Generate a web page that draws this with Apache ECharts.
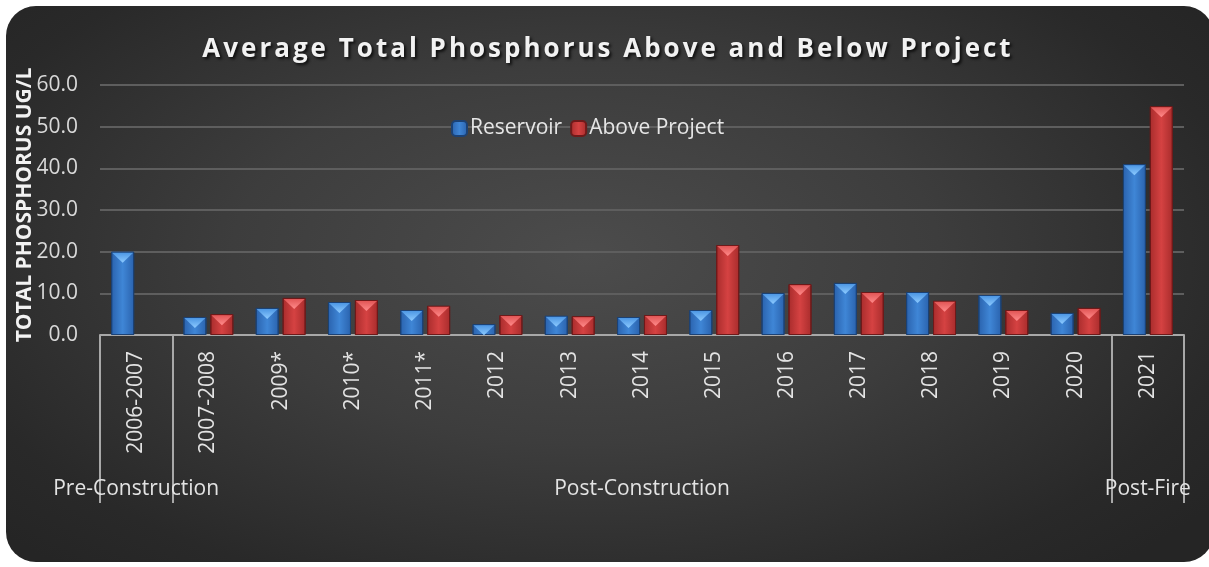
<!DOCTYPE html>
<html>
<head>
<meta charset="utf-8">
<script src="https://cdn.jsdelivr.net/npm/echarts@6/dist/echarts.min.js"></script>
<style>
  html, body { margin: 0; padding: 0; background: #fff; }
  #card {
    position: absolute; left: 6px; top: 6px; width: 1208px; height: 556px;
    border-radius: 30px;
    background: radial-gradient(ellipse 65% 75% at 48% 45%, #4c4c4c 0%, #3d3d3d 45%, #292929 85%, #252525 100%);
  }
  #chart { position: absolute; left: 0; top: 0; width: 1209px; height: 567px; }
  #title {
    position: absolute; left: 0; width: 1216px; top: 29px; text-align: center;
    font-family: 'Open Sans', sans-serif; font-weight: bold; font-size: 26px;
    letter-spacing: 3px; color: #f2f2f2; line-height: 36px;
    text-shadow: 2px 2px 3px rgba(0, 0, 0, 0.75);
  }
</style>
</head>
<body>
<div id="card"></div>
<div id="chart"></div>
<div id="title">Average Total Phosphorus Above and Below Project</div>
<script>
// categories and groups
var years = ['2006-2007', '2007-2008', '2009*', '2010*', '2011*', '2012', '2013', '2014',
  '2015', '2016', '2017', '2018', '2019', '2020', '2021']
var periods = ['Pre-Construction', '', '', '', '', '', '', 'Post-Construction',
  '', '', '', '', '', '', 'Post-Fire']
// values (ug/L)
var reservoir = [20.0, 4.3, 6.5, 7.9, 6.0, 2.6, 4.6, 4.3, 6.0, 10.1, 12.5, 10.3, 9.6, 5.3, 41.0]
var aboveProject = [null, 5.0, 8.9, 8.4, 7.0, 4.8, 4.5, 4.8, 21.6, 12.2, 10.3, 8.2, 6.0, 6.5, 54.9]
var yTicks = { min: 0, max: 60, interval: 10 }

var font = 'Open Sans'
var barW = 23

function hGrad(edge, mid) {
  return new echarts.graphic.LinearGradient(0, 0, 1, 0, [
    { offset: 0, color: edge },
    { offset: 0.5, color: mid },
    { offset: 1, color: edge }
  ])
}
function vGrad(top, bottom) {
  return new echarts.graphic.LinearGradient(0, 0, 0, 1, [
    { offset: 0, color: top },
    { offset: 1, color: bottom }
  ])
}

var chart = echarts.init(document.getElementById('chart'))
chart.setOption({
  backgroundColor: 'transparent',
  legend: {
    data: ['Reservoir', 'Above Project'],
    left: 446,
    top: 113,
    itemWidth: 15,
    itemHeight: 15,
    itemGap: 8,
    textStyle: { fontFamily: font, fontSize: 21, color: '#e6e6e6', padding: [0, 0, 0, -2] }
  },
  grid: { left: 100, right: 25, top: 85, bottom: 232 },
  xAxis: [
    {
      type: 'category',
      data: years,
      axisLine: { lineStyle: { color: '#a8a8a8', width: 2 } },
      axisTick: { show: false },
      axisLabel: {
        rotate: 90, interval: 0, margin: 16,
        fontFamily: font, fontSize: 21, color: '#e3e3e3'
      }
    },
    {
      type: 'category',
      data: periods,
      position: 'bottom',
      axisLine: { show: false },
      axisTick: {
        show: true,
        length: 168,
        interval: function (i) { return i === 0 || i === 1 || i === 14 },
        lineStyle: { color: '#a8a8a8', width: 2 }
      },
      axisLabel: {
        interval: 0, margin: 144,
        fontFamily: font, fontSize: 21, color: '#e3e3e3'
      }
    }
  ],
  yAxis: {
    type: 'value',
    min: yTicks.min,
    max: yTicks.max,
    interval: yTicks.interval,
    name: 'TOTAL PHOSPHORUS UG/L',
    nameLocation: 'middle',
    nameGap: 64,
    nameMoveOverlap: false,
    nameTextStyle: { fontFamily: font, fontWeight: 'bold', fontSize: 21, color: '#f2f2f2', padding: [0, 0, 0, 10] },
    axisLine: { show: false },
    axisTick: { show: false },
    axisLabel: {
      margin: 22, fontFamily: font, fontSize: 21, color: '#d9d9d9',
      formatter: function (v) { return v.toFixed(1) }
    },
    splitLine: { lineStyle: { color: '#5e5e5e', width: 2 } }
  },
  series: [
    {
      name: 'Reservoir',
      type: 'bar',
      data: reservoir,
      barWidth: barW,
      barGap: '17%',
      itemStyle: { color: hGrad('#2a62ad', '#3f86d6'), borderColor: '#1c4275', borderWidth: 1 }
    },
    {
      name: 'Above Project',
      type: 'bar',
      data: aboveProject,
      barWidth: barW,
      barGap: '17%',
      itemStyle: { color: hGrad('#a82c2c', '#d54242'), borderColor: '#6e1a1a', borderWidth: 1 }
    },
    {
      name: 'ResTop',
      type: 'pictorialBar',
      data: reservoir,
      symbol: 'triangle',
      symbolRotate: 180,
      symbolSize: [barW - 2, 10],
      symbolPosition: 'end',
      symbolOffset: [-13.5, 1],
      z: 5,
      itemStyle: { color: vGrad('#8ccaff', '#4d97e4') },
      silent: true
    },
    {
      name: 'AboveTop',
      type: 'pictorialBar',
      data: aboveProject,
      symbol: 'triangle',
      symbolRotate: 180,
      symbolSize: [barW - 2, 10],
      symbolPosition: 'end',
      symbolOffset: [13.5, 1],
      z: 5,
      itemStyle: { color: vGrad('#ff8a8a', '#e25656') },
      silent: true
    }
  ]
})
</script>
</body>
</html>
